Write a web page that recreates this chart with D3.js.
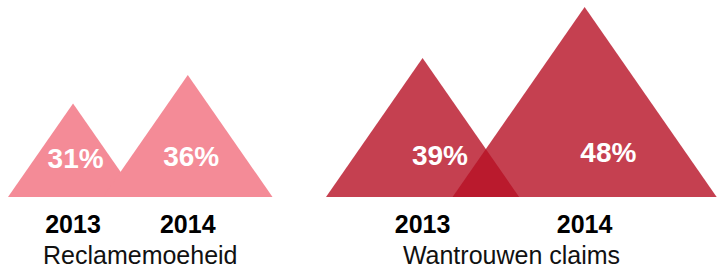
<!DOCTYPE html>
<html>
<head>
<meta charset="utf-8">
<script src="https://cdn.jsdelivr.net/npm/d3@7"></script>
<style>
  html, body { margin: 0; padding: 0; background: #fff; }
  svg { display: block; }
</style>
</head>
<body>
<svg id="chart" width="717" height="270"></svg>
<script>
// ---- data ----
const categories = ["Reclamemoeheid", "Wantrouwen claims"];
const years = ["2013", "2014"];
const reclamemoeheid = [31, 36];
const wantrouwenClaims = [39, 48];
const seriesValues = [reclamemoeheid, wantrouwenClaims];

// ---- layout ----
const W = 717, H = 270;
const baseY = 197;
const svg = d3.select("#chart");

const groupX = d3.scaleBand().domain(categories).range([8, 644]).paddingInner(0);
const hScale = d3.scaleLinear().domain([14.5, 48]).range([0, 190]);
const halfRatio = 0.695;
const gapAfterApex = 30;

const groupStyle = [
  { fill: "#F48B97", opacity: 1, labelShift: 0.04 },
  { fill: "rgb(182,16,36)", opacity: 0.8, labelShift: 0.18 }
];

const font = "'Liberation Sans', Arial, Helvetica, sans-serif";

categories.forEach((cat, gi) => {
  const vals = seriesValues[gi];
  const st = groupStyle[gi];
  let footLeft = groupX(cat);
  const tris = [];
  vals.forEach((v, i) => {
    const h = hScale(v);
    const hw = h * halfRatio;
    const apex = footLeft + hw;
    tris.push({ v, h, hw, apex, left: footLeft, right: footLeft + 2 * hw, year: years[i] });
    footLeft = apex + gapAfterApex;
  });

  const g = svg.append("g");
  g.selectAll("path.tri").data(tris).join("path")
    .attr("class", "tri")
    .attr("d", d => `M${d.left},${baseY}L${d.apex},${baseY - d.h}L${d.right},${baseY}Z`)
    .attr("fill", st.fill)
    .attr("fill-opacity", st.opacity);

  g.selectAll("text.pct").data(tris).join("text")
    .attr("class", "pct")
    .attr("x", d => d.apex + st.labelShift * d.hw)
    .attr("y", d => baseY - 23 - 0.062 * d.h)
    .attr("text-anchor", "middle")
    .attr("fill", "#fff")
    .style("font-family", font)
    .style("font-weight", "bold")
    .style("font-size", "28px")
    .text(d => d3.format(".0f")(d.v) + "%");

  g.selectAll("text.year").data(tris).join("text")
    .attr("class", "year")
    .attr("x", d => d.apex)
    .attr("y", 233)
    .attr("text-anchor", "middle")
    .attr("fill", "#000")
    .style("font-family", font)
    .style("font-weight", "bold")
    .style("font-size", "25px")
    .text(d => d.year);

  const spanL = tris[0].left;
  const spanR = Math.min(W - 20, tris[tris.length - 1].right);
  g.append("text")
    .attr("x", (spanL + spanR) / 2)
    .attr("y", 264)
    .attr("text-anchor", "middle")
    .attr("fill", "#111")
    .style("font-family", font)
    .style("font-size", "25px")
    .text(cat);
});
</script>
</body>
</html>
